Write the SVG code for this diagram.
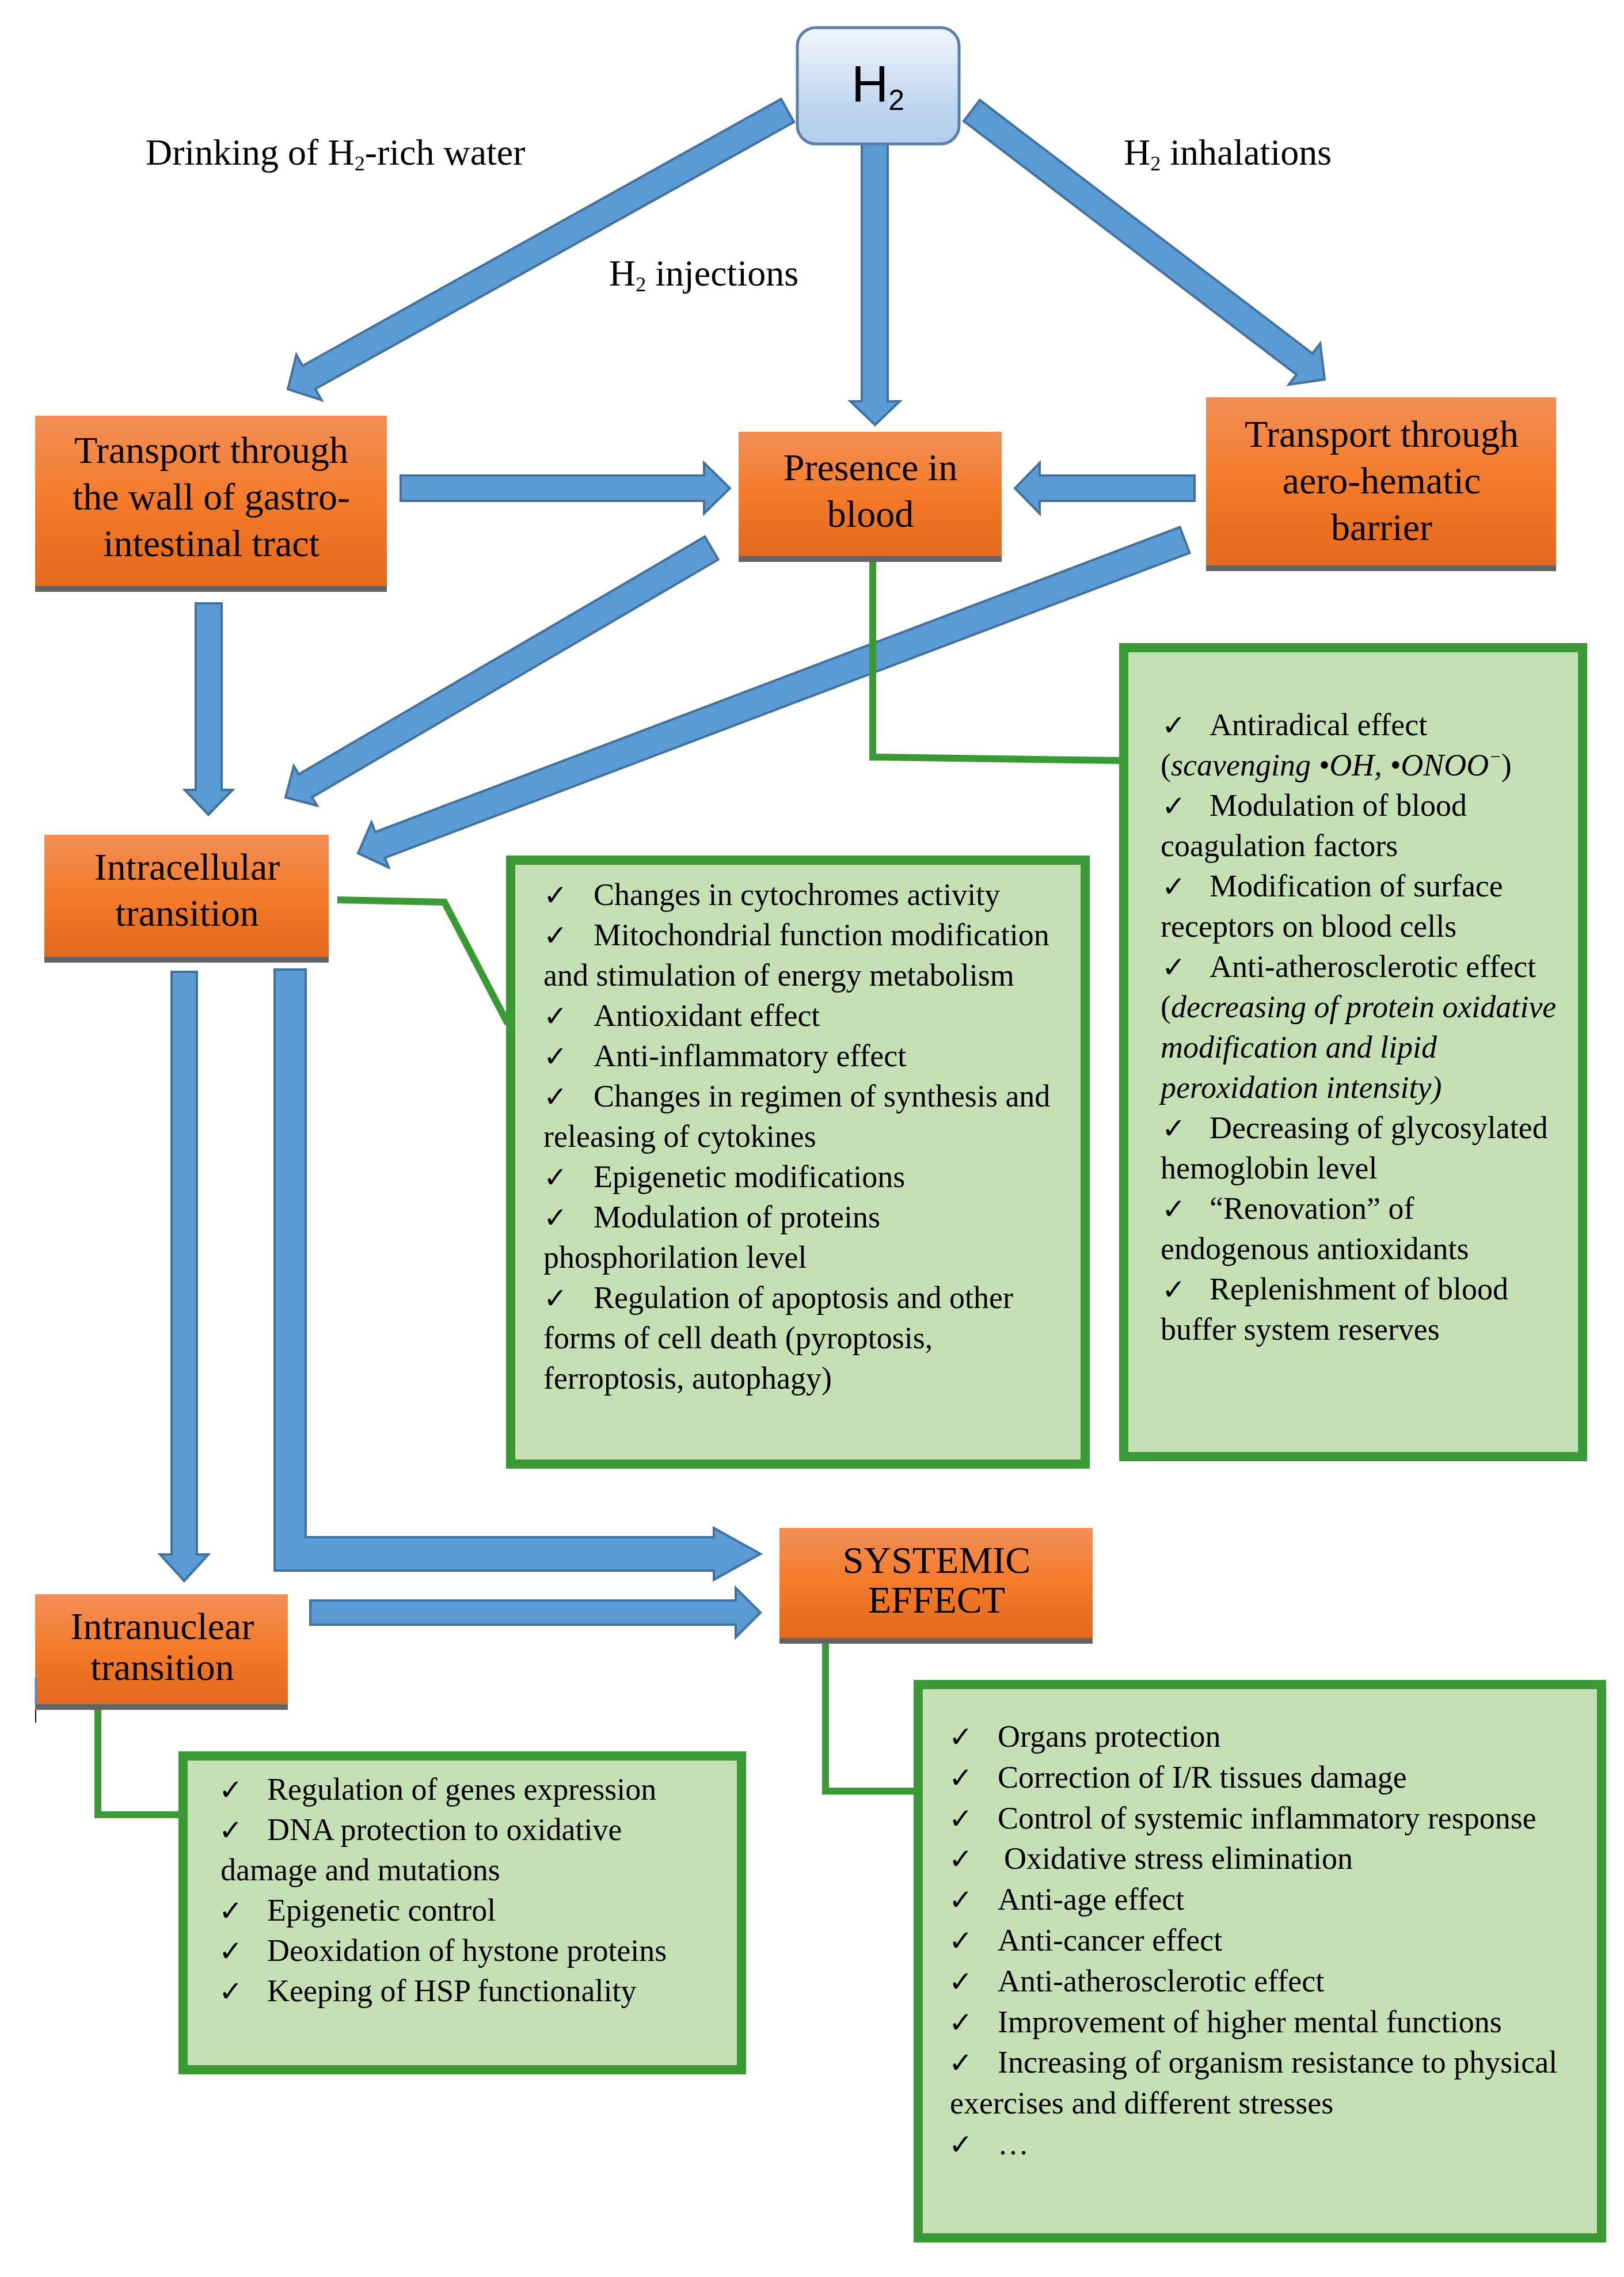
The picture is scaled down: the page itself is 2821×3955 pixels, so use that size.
<svg xmlns="http://www.w3.org/2000/svg" width="2821" height="3955" viewBox="0 0 2821 3955">
<defs>
<linearGradient id="og" x1="0" y1="0" x2="0" y2="1">
<stop offset="0" stop-color="#F28F57"/>
<stop offset="0.5" stop-color="#F47B2A"/>
<stop offset="1" stop-color="#E4691C"/>
</linearGradient>
<linearGradient id="bg" x1="0" y1="0" x2="0" y2="1">
<stop offset="0" stop-color="#F2F6FC"/>
<stop offset="0.7" stop-color="#BDD5EE"/>
<stop offset="1" stop-color="#B2CDEA"/>
</linearGradient>
<style>
.arr{fill:#5B9BD5;stroke:#41719C;stroke-width:4;stroke-linejoin:miter}
.gl{fill:none;stroke:#3A9A35;stroke-width:12;stroke-linejoin:miter}
.ob{fill:url(#og)}
.sh{fill:#646464}
.gb{fill:#C5E0B4;stroke:#3A9A35;stroke-width:16}
.ot{font-family:'Liberation Serif','Times New Roman',serif;font-size:66px;fill:#000;text-anchor:middle}
.lb{font-family:'Liberation Serif','Times New Roman',serif;font-size:64px;fill:#000}
.bt{font-family:'Liberation Serif','Times New Roman',serif;font-size:54px;fill:#000}
.ck{font-family:'DejaVu Sans',sans-serif;font-size:50px;fill:#000}
.it{font-style:italic}
</style>
</defs>
<rect x="0" y="0" width="2821" height="3955" fill="#FFFFFF"/>

<g id="connectors">
<polygon class="arr" points="1356.8,171.9 525.5,635.4 514.8,616.2 500,676 558.6,694.8 547.9,675.6 1379.2,212.1"/>
<polygon class="arr" points="1497,246 1497,697 1477,697 1520,738 1563,697 1542,697 1542,246"/>
<polygon class="arr" points="1701.9,173.7 2279.9,614 2293.3,596.5 2301,659 2238.7,668.1 2252.1,650.6 1674.1,210.3"/>
<polygon class="arr" points="696,826 1223,826 1223,804 1268,848 1223,892 1223,870 696,870"/>
<polygon class="arr" points="2075,826 1806,826 1806,804 1763,848 1806,892 1806,870 2075,870"/>
<polygon class="arr" points="340,1048 340,1372 321,1372 362,1415 404,1372 385,1372 385,1048"/>
<polygon class="arr" points="1224.4,932.1 518.9,1344.9 510.3,1330.3 496,1385 550.7,1399.3 542.1,1384.7 1247.6,971.9"/>
<polygon class="arr" points="2049.5,915.6 651.8,1445.1 645.4,1428.2 622,1482 675.2,1506.8 668.8,1489.9 2066.5,960.4"/>
<polygon class="arr" points="298,1688 298,2700 278,2700 320,2746 362,2700 342,2700 342,1688"/>
<polygon class="arr" points="477,1684 477,2728 1240,2728 1240,2744 1321,2699 1240,2654 1240,2670 531,2670 531,1684"/>
<polygon class="arr" points="539,2780 1278,2780 1278,2758 1321,2801 1278,2844 1278,2822 539,2822"/>
<polyline class="gl" points="1516,976 1516,1315 1946,1321"/>
<polyline class="gl" points="586,1563 772,1567 882,1778"/>
<polyline class="gl" points="170,2970 170,3152 314,3152"/>
<polyline class="gl" points="1434,2854 1434,3111 1590,3111"/>
</g>

<g id="labels">
<text class="lb" x="253" y="286">Drinking of H<tspan font-size="36" dy="10">2</tspan><tspan dy="-10">-rich water</tspan></text>
<text class="lb" x="1058" y="496">H<tspan font-size="36" dy="10">2</tspan><tspan dy="-10"> injections</tspan></text>
<text class="lb" x="1952" y="286">H<tspan font-size="36" dy="10">2</tspan><tspan dy="-10"> inhalations</tspan></text>
</g>

<g id="node-h2">
<rect x="1385" y="48" width="281" height="202" rx="32" fill="url(#bg)" stroke="#5A7FA8" stroke-width="5"/>
<text x="1525" y="176" font-family="'Liberation Sans Narrow','Liberation Sans',Arial,sans-serif" font-size="89" fill="#000" text-anchor="middle">H<tspan font-size="50" dy="15">2</tspan></text>
</g>

<g id="node-gastro">
<rect class="ob" x="61" y="722" width="611" height="296"/>
<rect class="sh" x="61" y="1018" width="611" height="10"/>
<text class="ot" x="367" y="804">Transport through</text>
<text class="ot" x="367" y="885">the wall of gastro-</text>
<text class="ot" x="367" y="966">intestinal tract</text>
</g>

<g id="node-blood">
<rect class="ob" x="1283" y="750" width="457" height="216"/>
<rect class="sh" x="1283" y="966" width="457" height="10"/>
<text class="ot" x="1512" y="834">Presence in</text>
<text class="ot" x="1512" y="915">blood</text>
</g>

<g id="node-aero">
<rect class="ob" x="2095" y="690" width="608" height="292"/>
<rect class="sh" x="2095" y="982" width="608" height="10"/>
<text class="ot" x="2400" y="776">Transport through</text>
<text class="ot" x="2400" y="857">aero-hematic</text>
<text class="ot" x="2400" y="938">barrier</text>
</g>

<g id="node-intracellular">
<rect class="ob" x="77" y="1450" width="494" height="212"/>
<rect class="sh" x="77" y="1662" width="494" height="10"/>
<text class="ot" x="325" y="1528">Intracellular</text>
<text class="ot" x="325" y="1608">transition</text>
</g>

<g id="node-intranuclear">
<rect class="ob" x="61" y="2769" width="439" height="191"/>
<rect class="sh" x="61" y="2960" width="439" height="10"/>
<line x1="62" y1="2914" x2="62" y2="2960" stroke="#2E8DE0" stroke-width="3"/>
<line x1="62" y1="2970" x2="62" y2="2992" stroke="#000" stroke-width="2"/>
<text class="ot" x="282" y="2847">Intranuclear</text>
<text class="ot" x="282" y="2918">transition</text>
</g>

<g id="node-systemic">
<rect class="ob" x="1354" y="2654" width="544" height="191"/>
<rect class="sh" x="1354" y="2845" width="544" height="10"/>
<text class="ot" x="1627" y="2732">SYSTEMIC</text>
<text class="ot" x="1627" y="2801">EFFECT</text>
</g>

<g id="node-blood-effects">
<rect class="gb" x="1952" y="1125" width="797" height="1405"/>
<text class="ck" x="2018" y="1277">✓</text><text class="bt" x="2101" y="1277">Antiradical effect</text>
<text class="bt" x="2016" y="1347">(<tspan class="it">scavenging •OH, •ONOO</tspan><tspan class="it" font-size="32" dy="-22">−</tspan><tspan dy="22">)</tspan></text>
<text class="ck" x="2018" y="1417">✓</text><text class="bt" x="2101" y="1417">Modulation of blood</text>
<text class="bt" x="2016" y="1487">coagulation factors</text>
<text class="ck" x="2018" y="1557">✓</text><text class="bt" x="2101" y="1557">Modification of surface</text>
<text class="bt" x="2016" y="1627">receptors on blood cells</text>
<text class="ck" x="2018" y="1697">✓</text><text class="bt" x="2101" y="1697">Anti-atherosclerotic effect</text>
<text class="bt" x="2016" y="1767">(<tspan class="it">decreasing of protein oxidative</tspan></text>
<text class="bt it" x="2016" y="1837">modification and lipid</text>
<text class="bt it" x="2016" y="1907">peroxidation intensity)</text>
<text class="ck" x="2018" y="1977">✓</text><text class="bt" x="2101" y="1977">Decreasing of glycosylated</text>
<text class="bt" x="2016" y="2047">hemoglobin level</text>
<text class="ck" x="2018" y="2117">✓</text><text class="bt" x="2101" y="2117">“Renovation” of</text>
<text class="bt" x="2016" y="2187">endogenous antioxidants</text>
<text class="ck" x="2018" y="2257">✓</text><text class="bt" x="2101" y="2257">Replenishment of blood</text>
<text class="bt" x="2016" y="2327">buffer system reserves</text>
</g>

<g id="node-intracellular-effects">
<rect class="gb" x="887" y="1494" width="998" height="1049"/>
<text class="ck" x="944" y="1572">✓</text><text class="bt" x="1031" y="1572">Changes in cytochromes activity</text>
<text class="ck" x="944" y="1642">✓</text><text class="bt" x="1031" y="1642">Mitochondrial function modification</text>
<text class="bt" x="944" y="1712">and stimulation of energy metabolism</text>
<text class="ck" x="944" y="1782">✓</text><text class="bt" x="1031" y="1782">Antioxidant effect</text>
<text class="ck" x="944" y="1852">✓</text><text class="bt" x="1031" y="1852">Anti-inflammatory effect</text>
<text class="ck" x="944" y="1922">✓</text><text class="bt" x="1031" y="1922">Changes in regimen of synthesis and</text>
<text class="bt" x="944" y="1992">releasing of cytokines</text>
<text class="ck" x="944" y="2062">✓</text><text class="bt" x="1031" y="2062">Epigenetic modifications</text>
<text class="ck" x="944" y="2132">✓</text><text class="bt" x="1031" y="2132">Modulation of proteins</text>
<text class="bt" x="944" y="2202">phosphorilation level</text>
<text class="ck" x="944" y="2272">✓</text><text class="bt" x="1031" y="2272">Regulation of apoptosis and other</text>
<text class="bt" x="944" y="2342">forms of cell death (pyroptosis,</text>
<text class="bt" x="944" y="2412">ferroptosis, autophagy)</text>
</g>

<g id="node-intranuclear-effects">
<rect class="gb" x="318" y="3050" width="970" height="545"/>
<text class="ck" x="380" y="3126">✓</text><text class="bt" x="464" y="3126">Regulation of genes expression</text>
<text class="ck" x="380" y="3196">✓</text><text class="bt" x="464" y="3196">DNA protection to oxidative</text>
<text class="bt" x="383" y="3266">damage and mutations</text>
<text class="ck" x="380" y="3336">✓</text><text class="bt" x="464" y="3336">Epigenetic control</text>
<text class="ck" x="380" y="3406">✓</text><text class="bt" x="464" y="3406">Deoxidation of hystone proteins</text>
<text class="ck" x="380" y="3476">✓</text><text class="bt" x="464" y="3476">Keeping of HSP functionality</text>
</g>

<g id="node-systemic-effects">
<rect class="gb" x="1595" y="2926" width="1187" height="961"/>
<text class="ck" x="1648" y="3034">✓</text><text class="bt" x="1733" y="3034">Organs protection</text>
<text class="ck" x="1648" y="3105">✓</text><text class="bt" x="1733" y="3105">Correction of I/R tissues damage</text>
<text class="ck" x="1648" y="3176">✓</text><text class="bt" x="1733" y="3176">Control of systemic inflammatory response</text>
<text class="ck" x="1648" y="3246">✓</text><text class="bt" x="1744" y="3246">Oxidative stress elimination</text>
<text class="ck" x="1648" y="3317">✓</text><text class="bt" x="1733" y="3317">Anti-age effect</text>
<text class="ck" x="1648" y="3388">✓</text><text class="bt" x="1733" y="3388">Anti-cancer effect</text>
<text class="ck" x="1648" y="3459">✓</text><text class="bt" x="1733" y="3459">Anti-atherosclerotic effect</text>
<text class="ck" x="1648" y="3530">✓</text><text class="bt" x="1733" y="3530">Improvement of higher mental functions</text>
<text class="ck" x="1648" y="3600">✓</text><text class="bt" x="1733" y="3600">Increasing of organism resistance to physical</text>
<text class="bt" x="1650" y="3671">exercises and different stresses</text>
<text class="ck" x="1648" y="3742">✓</text><text class="bt" x="1733" y="3742">…</text>
</g>
</svg>
